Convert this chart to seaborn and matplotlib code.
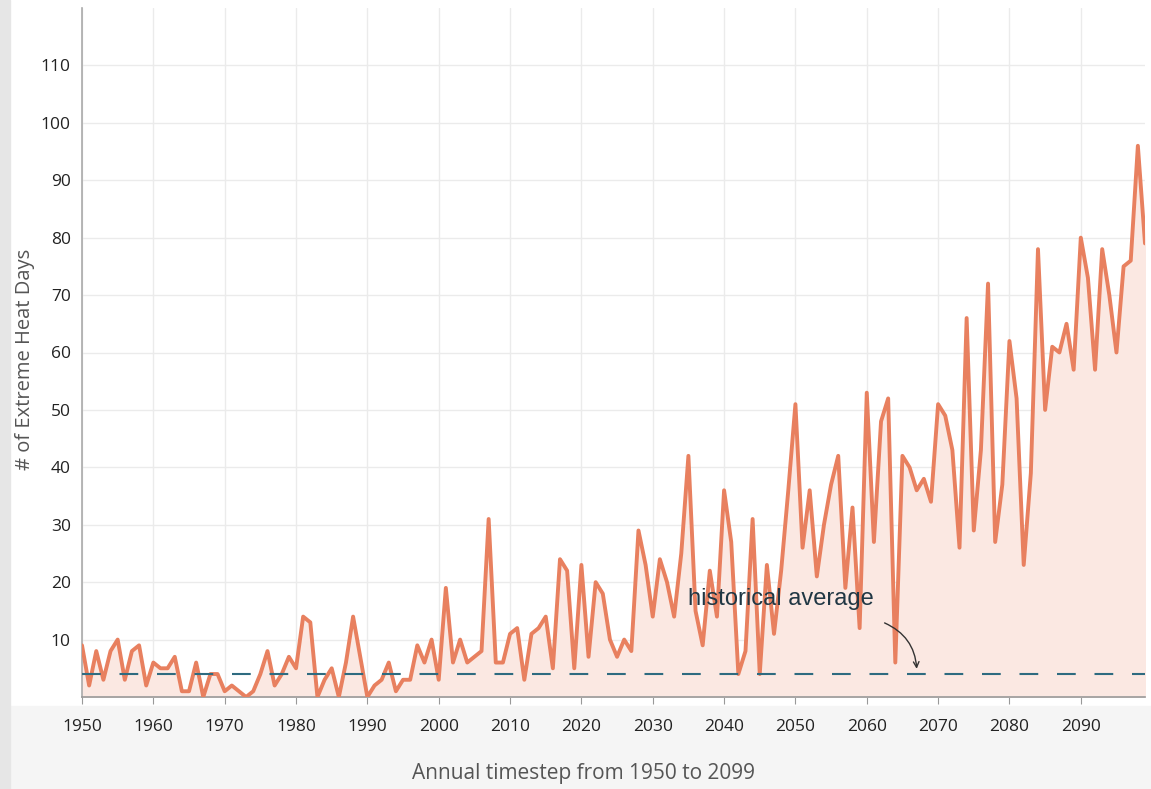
import numpy as np
import pandas as pd
import matplotlib
matplotlib.use("Agg")
import matplotlib.pyplot as plt
from matplotlib.patches import Rectangle
import seaborn as sns

# datos
years = list(range(1950, 2100))
heat_days = [
    9, 2, 8, 3, 8, 10, 3, 8, 9, 2,          # 1950s
    6, 5, 5, 7, 1, 1, 6, 0, 4, 4,           # 1960s
    1, 2, 1, 0, 1, 4, 8, 2, 4, 7,           # 1970s
    5, 14, 13, 0, 3, 5, 0, 6, 14, 7,        # 1980s
    0, 2, 3, 6, 1, 3, 3, 9, 6, 10,          # 1990s
    3, 19, 6, 10, 6, 7, 8, 31, 6, 6,        # 2000s
    11, 12, 3, 11, 12, 14, 5, 24, 22, 5,    # 2010s
    23, 7, 20, 18, 10, 7, 10, 8, 29, 23,    # 2020s
    14, 24, 20, 14, 25, 42, 15, 9, 22, 14,  # 2030s
    36, 27, 4, 8, 31, 4, 23, 11, 22, 36,    # 2040s
    51, 26, 36, 21, 30, 37, 42, 19, 33, 12, # 2050s
    53, 27, 48, 52, 6, 42, 40, 36, 38, 34,  # 2060s
    51, 49, 43, 26, 66, 29, 43, 72, 27, 37, # 2070s
    62, 52, 23, 39, 78, 50, 61, 60, 65, 57, # 2080s
    80, 73, 57, 78, 70, 60, 75, 76, 96, 79, # 2090s
]
hist_avg = 4
x_ticks = list(range(1950, 2100, 10))
y_ticks = list(range(10, 120, 10))

df = pd.DataFrame({"Year": years, "Days": heat_days})

sns.set_style("whitegrid")
plt.rcParams["font.family"] = ["Open Sans", "DejaVu Sans"]

fig = plt.figure(figsize=(11.51, 7.89), dpi=100)
fig.patch.set_facecolor("white")
# sombra gris de la captura (abajo e izquierda)
fig.patches.append(Rectangle((0, 0), 1, 0.105, transform=fig.transFigure,
                             color="#f5f5f5", zorder=-10))
fig.patches.append(Rectangle((0, 0), 0.009, 1, transform=fig.transFigure,
                             color="#e6e6e6", zorder=-9))

ax = fig.add_axes([82 / 1151, 1 - 697 / 789, (1145 - 82) / 1151, (697 - 8) / 789])

ax.fill_between(df["Year"], 0, df["Days"], color="#fbe8e2", zorder=1)
sns.lineplot(data=df, x="Year", y="Days", ax=ax, color="#e8805f",
             linewidth=2.8, zorder=3)
ax.axhline(hist_avg, color="#2e6b80", linewidth=1.5, dashes=(9, 9), zorder=4)

ax.text(2047.9, 17.1, "historical average", ha="center", va="center",
        fontsize=17, color="#203744",
        family=["Liberation Sans", "DejaVu Sans"], zorder=5)
ax.annotate("", xy=(2067, 4.9), xytext=(2062.5, 12.9),
            arrowprops=dict(arrowstyle="->", color="#333333", lw=1,
                            connectionstyle="arc3,rad=-0.3",
                            shrinkA=0, shrinkB=0),
            zorder=5)

ax.set_xlim(1950, 2099)
ax.set_ylim(0, 120)
ax.set_xticks(x_ticks)
ax.set_yticks(y_ticks)
ax.grid(True, color="#ebebeb", linewidth=1)
ax.set_axisbelow(True)

for s in ["top", "right"]:
    ax.spines[s].set_visible(False)
ax.spines["left"].set_color("#aaaaaa")
ax.spines["bottom"].set_color("#999999")
ax.spines["left"].set_linewidth(1.2)
ax.spines["bottom"].set_linewidth(1.2)

ax.tick_params(axis="x", length=5, color="#999999", labelsize=12.5,
               labelcolor="#222222", pad=11, bottom=True)
ax.tick_params(axis="y", length=0, labelsize=12.5, labelcolor="#222222", pad=8)

ax.set_xlabel("Annual timestep from 1950 to 2099", fontsize=15,
              color="#555555", va="center")
ax.set_ylabel("# of Extreme Heat Days", fontsize=14.5, color="#555555",
              va="center")
ax.xaxis.set_label_coords(0.472, -0.111)
ax.yaxis.set_label_coords(-0.054, 0.49)

plt.savefig("out.png", dpi=100)
